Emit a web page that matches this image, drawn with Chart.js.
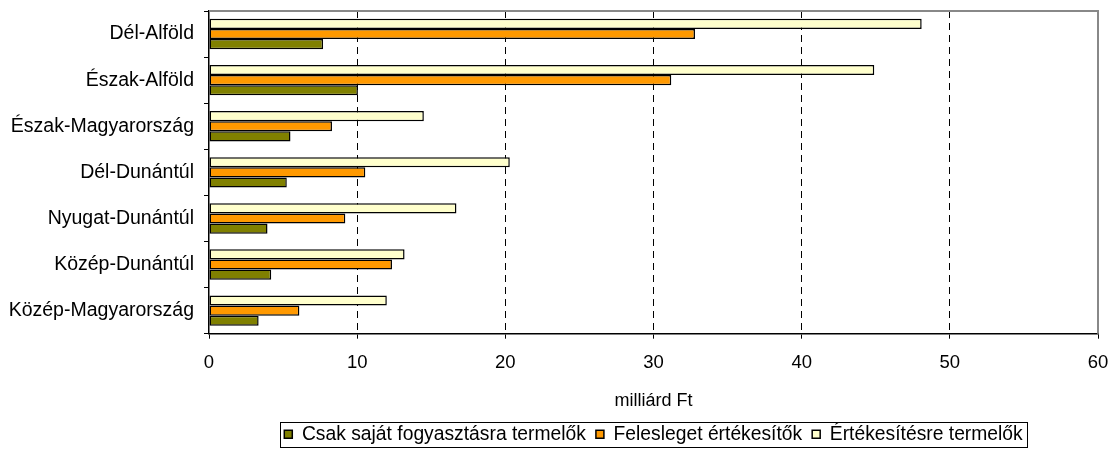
<!DOCTYPE html>
<html>
<head>
<meta charset="utf-8">
<script src="https://cdn.jsdelivr.net/npm/chart.js@4/dist/chart.umd.min.js"></script>
<style>
  html, body { margin: 0; padding: 0; background: #ffffff; }
  #wrap { width: 1111px; height: 450px; }
</style>
</head>
<body>
<div id="wrap"><canvas id="c" width="1111" height="450"></canvas></div>
<script>
// ---- data ----
const regions = ["Dél-Alföld", "Észak-Alföld", "Észak-Magyarország", "Dél-Dunántúl", "Nyugat-Dunántúl", "Közép-Dunántúl", "Közép-Magyarország"];
const seriesNames = ["Értékesítésre termelők", "Felesleget értékesítők", "Csak saját fogyasztásra termelők"];
const ertekesitesre = [48.1, 44.9, 14.5, 20.3, 16.7, 13.2, 12.0];
const felesleget = [32.8, 31.2, 8.3, 10.55, 9.2, 12.35, 6.1];
const sajat = [7.7, 10.05, 5.5, 5.25, 3.95, 4.2, 3.35];
const xTicks = [0, 10, 20, 30, 40, 50, 60];
const xTitle = "milliárd Ft";

const FONT = "'Liberation Sans', Arial, sans-serif";
Chart.defaults.font.family = FONT;
Chart.defaults.color = '#000';

const legendBox = {
  id: 'legendBox',
  afterDraw(chart) {
    const hb = chart.legend && chart.legend.legendHitBoxes;
    if (!hb || !hb.length) return;
    const l = Math.min(...hb.map(h => h.left)) - 4;
    const r = Math.max(...hb.map(h => h.left + h.width)) + 5;
    const cy = hb[0].top + hb[0].height / 2;
    const t = cy - 12.5, b = cy + 12.5;
    const ctx = chart.ctx;
    ctx.save();
    ctx.strokeStyle = '#000';
    ctx.lineWidth = 1;
    ctx.strokeRect(Math.round(l) + 0.5, Math.round(t) + 0.5, Math.round(r - l), Math.round(b - t));
    ctx.restore();
  }
};

const frame = {
  id: 'frame',
  afterDraw(chart) {
    const a = chart.chartArea;
    const ctx = chart.ctx;
    ctx.save();
    ctx.strokeStyle = '#888888';
    ctx.lineWidth = 2;
    ctx.beginPath();
    ctx.moveTo(a.left, a.top);
    ctx.lineTo(a.right, a.top);
    ctx.lineTo(a.right, a.bottom);
    ctx.stroke();
    ctx.restore();
  }
};

const colors = ['#FFFFCC', '#FF9900', '#808000'];
const values = [ertekesitesre, felesleget, sajat];

new Chart(document.getElementById('c'), {
  type: 'bar',
  data: {
    labels: regions,
    datasets: seriesNames.map((n, i) => ({
      label: n,
      data: values[i],
      backgroundColor: colors[i],
      borderColor: '#000',
      borderWidth: 1.5,
      borderSkipped: false,
      categoryPercentage: 0.66,
      barPercentage: 1.0
    }))
  },
  options: {
    indexAxis: 'y',
    responsive: false,
    animation: false,
    devicePixelRatio: 1,
    layout: { padding: { left: 0, right: 13, top: 11, bottom: -4 } },
    plugins: {
      tooltip: { enabled: false },
      legend: {
        position: 'bottom',
        fullSize: false,
        reverse: true,
        labels: {
          boxWidth: 8,
          boxHeight: 8,
          padding: 10,
          color: '#000',
          font: { size: 19.3, family: FONT }
        }
      }
    },
    scales: {
      x: {
        min: 0, max: 60,
        afterBuildTicks(scale) { scale.ticks = xTicks.map(v => ({ value: v })); },
        afterFit(scale) { scale.height = 81; scale.paddingLeft = 0; scale.paddingRight = 0; },
        ticks: { font: { size: 18.5 }, color: '#000', padding: 13, maxRotation: 0 },
        grid: {
          color: c => (c.tick && (c.tick.value === 0 || c.tick.value === 60)) ? 'rgba(0,0,0,0)' : '#000',
          lineWidth: 1,
          tickColor: '#000',
          tickLength: 5,
          tickBorderDash: [],
          drawTicks: true
        },
        border: { display: true, color: '#000', width: 1.5, dash: [7, 5] },
        title: { display: true, text: xTitle, font: { size: 18 }, color: '#000', padding: { top: 0, bottom: 3 } }
      },
      y: {
        afterFit(scale) { scale.width = 209; scale.paddingTop = 0; scale.paddingBottom = 0; },
        ticks: { font: { size: 19.5 }, color: '#000', padding: 10 },
        grid: {
          offset: true,
          drawOnChartArea: false,
          drawTicks: true,
          tickLength: 5,
          tickColor: '#000',
          color: '#000'
        },
        border: { display: true, color: '#000', width: 1.5 }
      }
    }
  },
  plugins: [legendBox, frame]
});
</script>
</body>
</html>
